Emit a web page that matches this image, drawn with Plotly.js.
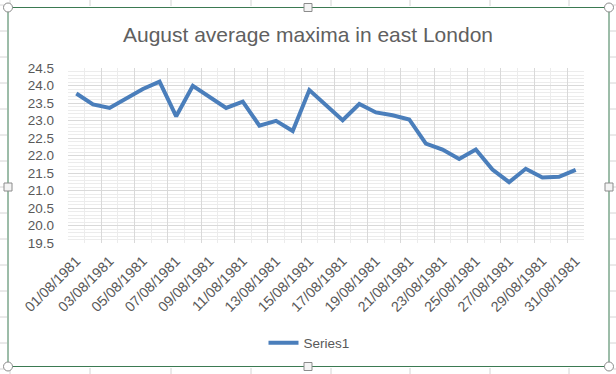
<!DOCTYPE html>
<html>
<head>
<meta charset="utf-8">
<script src="https://cdn.plot.ly/plotly-3.0.1.min.js"></script>
<style>html,body{margin:0;padding:0;background:#fff;}#chart{width:616px;height:374px;}</style>
</head>
<body>
<div id="chart"></div>
<script>
// Data
const days = [1,2,3,4,5,6,7,8,9,10,11,12,13,14,15,16,17,18,19,20,21,22,23,24,25,26,27,28,29,30,31];
const dateLabels = ["01/08/1981","02/08/1981","03/08/1981","04/08/1981","05/08/1981","06/08/1981","07/08/1981","08/08/1981","09/08/1981","10/08/1981","11/08/1981","12/08/1981","13/08/1981","14/08/1981","15/08/1981","16/08/1981","17/08/1981","18/08/1981","19/08/1981","20/08/1981","21/08/1981","22/08/1981","23/08/1981","24/08/1981","25/08/1981","26/08/1981","27/08/1981","28/08/1981","29/08/1981","30/08/1981","31/08/1981"];
const series1 = [23.77,23.46,23.36,23.62,23.90,24.11,23.12,23.99,23.67,23.36,23.54,22.85,22.99,22.70,23.87,23.44,23.01,23.47,23.23,23.15,23.03,22.34,22.17,21.90,22.17,21.60,21.24,21.62,21.37,21.39,21.59];
const shownTickDays = days.filter(d => d % 2 === 1);
const shownTickText = shownTickDays.map(d => dateLabels[d - 1]);

// Page geometry helpers (pixel -> paper)
const W = 616, H = 374, ML = 68, MR = 32, MT = 68, MB = 131;
const PW = W - ML - MR, PH = H - MT - MB;
const px = x => (x - ML) / PW;
const py = y => (H - MB - y) / PH;

const shapes = [];
// spreadsheet cell grid visible outside the chart border
const colXs = [10, 90, 171, 251, 331, 410, 490, 569];
colXs.forEach(x => {
  shapes.push({type:'line', xref:'paper', yref:'paper', x0:px(x), x1:px(x), y0:py(0), y1:py(6), line:{color:'#d4d4d4', width:1}, layer:'below'});
  shapes.push({type:'line', xref:'paper', yref:'paper', x0:px(x), x1:px(x), y0:py(368), y1:py(374), line:{color:'#d4d4d4', width:1}, layer:'below'});
});
for (let y = 5; y < 374; y += 26) {
  shapes.push({type:'line', xref:'paper', yref:'paper', x0:px(0), x1:px(7), y0:py(y), y1:py(y), line:{color:'#d4d4d4', width:1}, layer:'below'});
  shapes.push({type:'line', xref:'paper', yref:'paper', x0:px(610), x1:px(616), y0:py(y), y1:py(y), line:{color:'#d4d4d4', width:1}, layer:'below'});
}
// chart area border
shapes.push({type:'rect', xref:'paper', yref:'paper', x0:px(8), x1:px(609), y0:py(7.5), y1:py(366.5), line:{color:'#3b7a52', width:1}, fillcolor:'rgba(0,0,0,0)'});
// selection handles
const circ = [[8,7.5],[609,7.5],[8,366.5],[609,366.5]];
circ.forEach(([x,y]) => shapes.push({type:'circle', xref:'paper', yref:'paper', x0:px(x-4.5), x1:px(x+4.5), y0:py(y-4.5), y1:py(y+4.5), line:{color:'#8c8c8c', width:1}, fillcolor:'#ffffff'}));
const sq = [[308,7.5],[8,187],[609,187],[308,366.5]];
sq.forEach(([x,y]) => shapes.push({type:'rect', xref:'paper', yref:'paper', x0:px(x-4), x1:px(x+4), y0:py(y-4), y1:py(y+4), line:{color:'#8c8c8c', width:1}, fillcolor:'#f4f4f4'}));

const font = 'Liberation Sans, Arial, sans-serif';
const grey = '#595959';

const traces = [
  {x: days, y: series1, type:'scatter', mode:'lines', name:'Series1',
   line:{color:'#4a7ebb', width:4, shape:'linear'}, xaxis:'x', yaxis:'y', hoverinfo:'skip'},
  {x: days, y: series1, type:'scatter', mode:'lines', showlegend:false,
   line:{color:'rgba(0,0,0,0)', width:0}, xaxis:'x2', yaxis:'y', hoverinfo:'skip'}
];

const layout = {
  width: W, height: H,
  margin: {l: ML, r: MR, t: MT, b: MB, pad: 0, autoexpand: false},
  paper_bgcolor: '#ffffff', plot_bgcolor: '#ffffff',
  font: {family: font, color: grey, size: 13},
  title: {text: 'August average maxima in east London', x: 0.5, xref: 'container', xanchor: 'center',
          y: 1 - 35/H, yref: 'container', yanchor: 'middle',
          font: {family: font, size: 21, color: '#606060'}},
  xaxis: {
    range: [0.5, 31.5], tickmode:'array', tickvals: shownTickDays, ticktext: shownTickText,
    tickangle: -45, showgrid: false, zeroline: false, showline: false, ticks: '',
    ticklabelstandoff: 6, automargin: false,
    tickfont: {family: font, size: 14.3, color: grey}, fixedrange: true
  },
  xaxis2: {
    overlaying: 'x', side: 'bottom', range: [0.5, 31.5], tickmode: 'linear', tick0: 0.5, dtick: 2,
    showticklabels: false, ticks: '', showgrid: true, gridcolor: '#d9d9d9', gridwidth: 1,
    zeroline: false, showline: false,
    minor: {tickmode: 'linear', tick0: 0.5, dtick: 1, showgrid: true, gridcolor: '#ececec', gridwidth: 1, ticks: ''}
  },
  yaxis: {
    range: [19.5, 24.5], tickmode: 'linear', tick0: 19.5, dtick: 0.5, tickformat: '.1f',
    showgrid: true, gridcolor: '#d9d9d9', gridwidth: 1, zeroline: false, showline: false, ticks: '',
    ticklabelstandoff: 13, automargin: false,
    minor: {tickmode: 'linear', tick0: 19.5, dtick: 0.1, showgrid: true, gridcolor: '#ececec', gridwidth: 1, ticks: ''},
    tickfont: {family: font, size: 13.5, color: grey}, fixedrange: true
  },
  showlegend: true,
  legend: {orientation: 'h', x: px(309), xanchor: 'center', xref: 'paper', y: py(343), yanchor: 'middle',
           font: {family: font, size: 13.5, color: grey}, bgcolor: 'rgba(0,0,0,0)'},
  shapes: shapes
};

Plotly.newPlot('chart', traces, layout, {displayModeBar: false, staticPlot: true});
</script>
</body>
</html>
